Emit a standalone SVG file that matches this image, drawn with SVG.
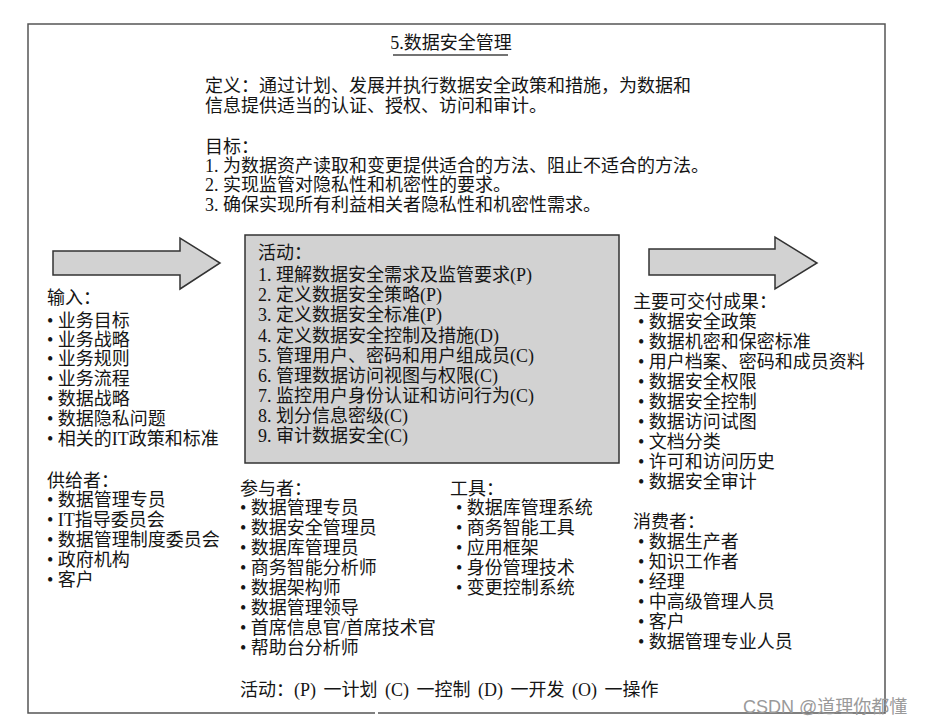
<svg xmlns="http://www.w3.org/2000/svg" width="929" height="726" viewBox="0 0 929 726">
<style>
text{font-family:"Liberation Serif","Noto Sans CJK SC",serif;fill:#151515}
.t{font-size:18px}
.h{font-size:18px}
.l{font-size:18px}
.a{font-size:18px}
.wm{font-family:"Liberation Sans","Noto Sans CJK SC",sans-serif;font-size:18px;fill:#9a9a9a}
.frame{fill:none;stroke:#555;stroke-width:1.5}
.gray{fill:#d2d2d2;stroke:#333;stroke-width:1.5}
</style>
<rect width="929" height="726" fill="#fff"/>
<g id="frame">
<path class="frame" d="M375,713 L28,713 L28,24 L885,24 L885,713 L378,713"/>
</g>
<g id="header">
<text class="t" x="451" y="49" text-anchor="middle">5.数据安全管理</text>
<line x1="393" y1="55" x2="508" y2="55" stroke="#444" stroke-width="1.5"/>
<text class="h" x="205" y="92">定义：通过计划、发展并执行数据安全政策和措施，为数据和</text>
<text class="h" x="205" y="112">信息提供适当的认证、授权、访问和审计。</text>
<text class="h" x="205" y="153">目标：</text>
<text class="h" x="205" y="172">1. 为数据资产读取和变更提供适合的方法、阻止不适合的方法。</text>
<text class="h" x="205" y="191">2. 实现监管对隐私性和机密性的要求。</text>
<text class="h" x="205" y="211">3. 确保实现所有利益相关者隐私性和机密性需求。</text>
</g>
<g id="activities">
<rect class="gray" x="245" y="235" width="374" height="228"/>
<text class="a" x="258" y="259">活动：</text>
<text class="a" x="258" y="281">1. 理解数据安全需求及监管要求(P)</text>
<text class="a" x="258" y="301">2. 定义数据安全策略(P)</text>
<text class="a" x="258" y="321">3. 定义数据安全标准(P)</text>
<text class="a" x="258" y="342">4. 定义数据安全控制及措施(D)</text>
<text class="a" x="258" y="362">5. 管理用户、密码和用户组成员(C)</text>
<text class="a" x="258" y="382">6. 管理数据访问视图与权限(C)</text>
<text class="a" x="258" y="402">7. 监控用户身份认证和访问行为(C)</text>
<text class="a" x="258" y="422">8. 划分信息密级(C)</text>
<text class="a" x="258" y="442">9. 审计数据安全(C)</text>
</g>
<g id="connectors">
<path class="gray" d="M53,251 L180,251 L180,238 L220,263 L180,289 L180,275 L53,275 Z"/>
<path class="gray" d="M649,249 L775,249 L775,237 L817,263 L775,289 L775,275 L649,275 Z"/>
</g>
<g id="inputs">
<text class="l" x="47" y="304">输入：</text>
<text class="l" x="47" y="327">• 业务目标</text>
<text class="l" x="47" y="346">• 业务战略</text>
<text class="l" x="47" y="365">• 业务规则</text>
<text class="l" x="47" y="385">• 业务流程</text>
<text class="l" x="47" y="405">• 数据战略</text>
<text class="l" x="47" y="425">• 数据隐私问题</text>
<text class="l" x="47" y="445">• 相关的IT政策和标准</text>
</g>
<g id="suppliers">
<text class="l" x="47" y="487">供给者：</text>
<text class="l" x="47" y="506">• 数据管理专员</text>
<text class="l" x="47" y="526">• IT指导委员会</text>
<text class="l" x="47" y="546">• 数据管理制度委员会</text>
<text class="l" x="47" y="566">• 政府机构</text>
<text class="l" x="47" y="586">• 客户</text>
</g>
<g id="participants">
<text class="l" x="240" y="495">参与者：</text>
<text class="l" x="240" y="514">• 数据管理专员</text>
<text class="l" x="240" y="534">• 数据安全管理员</text>
<text class="l" x="240" y="554">• 数据库管理员</text>
<text class="l" x="240" y="574">• 商务智能分析师</text>
<text class="l" x="240" y="594">• 数据架构师</text>
<text class="l" x="240" y="614">• 数据管理领导</text>
<text class="l" x="240" y="634">• 首席信息官/首席技术官</text>
<text class="l" x="240" y="654">• 帮助台分析师</text>
</g>
<g id="tools">
<text class="l" x="450" y="495">工具：</text>
<text class="l" x="456" y="514">• 数据库管理系统</text>
<text class="l" x="456" y="534">• 商务智能工具</text>
<text class="l" x="456" y="554">• 应用框架</text>
<text class="l" x="456" y="574">• 身份管理技术</text>
<text class="l" x="456" y="594">• 变更控制系统</text>
</g>
<g id="deliverables">
<text class="l" x="633" y="308">主要可交付成果：</text>
<text class="l" x="638" y="328">• 数据安全政策</text>
<text class="l" x="638" y="348">• 数据机密和保密标准</text>
<text class="l" x="638" y="368">• 用户档案、密码和成员资料</text>
<text class="l" x="638" y="388">• 数据安全权限</text>
<text class="l" x="638" y="408">• 数据安全控制</text>
<text class="l" x="638" y="428">• 数据访问试图</text>
<text class="l" x="638" y="448">• 文档分类</text>
<text class="l" x="638" y="468">• 许可和访问历史</text>
<text class="l" x="638" y="488">• 数据安全审计</text>
</g>
<g id="consumers">
<text class="l" x="633" y="528">消费者：</text>
<text class="l" x="638" y="548">• 数据生产者</text>
<text class="l" x="638" y="568">• 知识工作者</text>
<text class="l" x="638" y="588">• 经理</text>
<text class="l" x="638" y="608">• 中高级管理人员</text>
<text class="l" x="638" y="628">• 客户</text>
<text class="l" x="638" y="648">• 数据管理专业人员</text>
</g>
<g id="legend">
<text class="l" x="240" y="696" word-spacing="3">活动：(P) 一计划 (C) 一控制 (D) 一开发 (O) 一操作</text>
</g>
<g id="watermark">
<text class="wm" x="743" y="713">CSDN @道理你都懂</text>
</g>
</svg>
